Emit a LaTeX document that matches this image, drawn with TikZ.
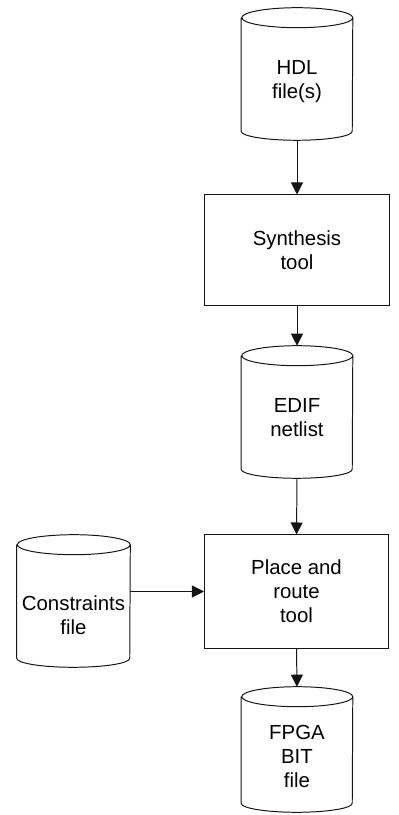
\documentclass[tikz,border=0pt]{standalone}
\usepackage{fontspec}
\setmainfont{Liberation Sans}
\usetikzlibrary{arrows.meta, positioning, calc}
\definecolor{flowblack}{RGB}{20, 20, 20}

\tikzset{
    store/.style={rectangle, minimum width=2.775cm, minimum height=3.3cm, inner sep=0pt},
    storeline/.style={draw=flowblack, line width=0.7pt},
    storetext/.style={align=center, inner sep=0pt, font=\fontsize{14.5}{17}\selectfont},
    toolbox/.style={rectangle, draw=flowblack, minimum width=4.6cm, align=center,
        line width=0.7pt, font=\fontsize{14.5}{17}\selectfont},
    flow/.style={draw=flowblack, line width=0.7pt, -{Triangle[length=0.3cm, width=0.3cm]}}
}
% cilindro sobre el nodo #1, semiancho #2
\newcommand{\drawstore}[2]{%
    \draw[storeline] ([yshift=-0.25cm]#1.north west) -- ([yshift=0.225cm]#1.south west)
        arc[start angle=180, end angle=360, x radius=#2, y radius=0.225cm]
        -- ([yshift=-0.25cm]#1.north east)
        arc[start angle=0, end angle=360, x radius=#2, y radius=0.25cm];
}

\begin{document}
\begin{tikzpicture}[x=0.025cm, y=0.025cm]
    \useasboundingbox (0,0) rectangle (399,815);
    % Flujo principal
    \node[store] (hdl) at (297,741) {};
    \drawstore{hdl}{1.3875cm}
    \node[storetext] (hdltxt) at (297,733) {HDL\\file(s)};
    \node[toolbox, minimum height=2.75cm] (synth) at (297,565) {Synthesis\\tool};
    \node[store] (edif) at (297,403) {};
    \drawstore{edif}{1.3875cm}
    \node[storetext] (ediftxt) at (297,397.5) {EDIF\\netlist};
    \node[toolbox, minimum height=2.825cm] (place) at (296.5,223.5) {Place and\\route\\tool};
    \node[store, minimum height=3.125cm] (fpga) at (297,65.5) {};
    \drawstore{fpga}{1.3875cm}
    \node[storetext] (fpgatxt) at (297,58.5) {FPGA\\BIT\\file};
    % Restricciones
    \node[store, minimum width=2.825cm] (cons) at (73.5,214) {};
    \drawstore{cons}{1.4125cm}
    \node[storetext] (constxt) at (73.5,199.5) {Constraints\\file};

    \draw[flow] (hdl.south) -- (synth.north);
    \draw[flow] (synth.south) -- (edif.north);
    \draw[flow] (edif.south) -- (place.north);
    \draw[flow] (place.south) -- (fpga.north);
    \draw[flow] (cons.east |- place.west) -- (place.west);
\end{tikzpicture}
\end{document}
